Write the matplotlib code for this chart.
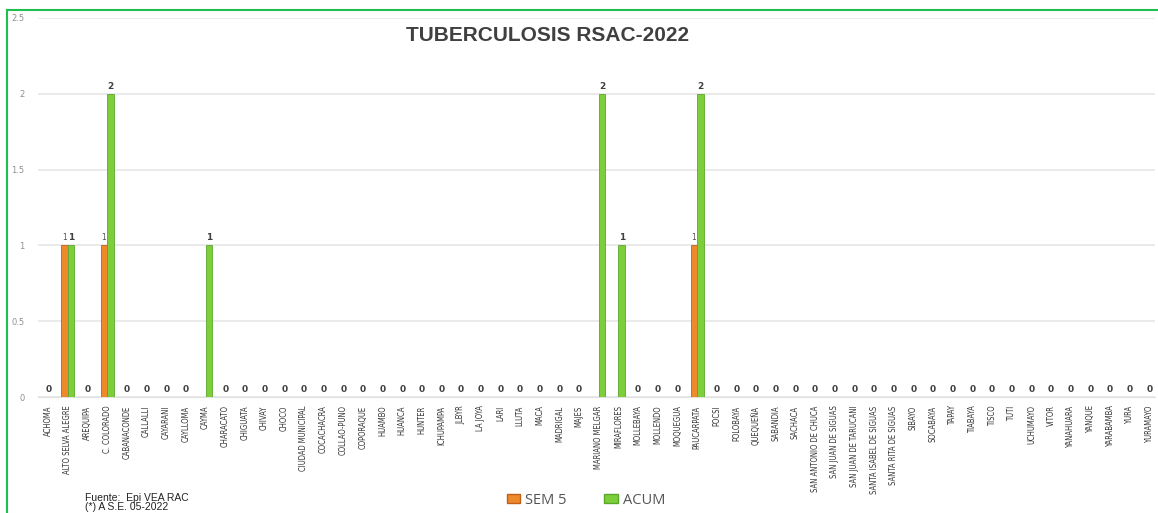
import matplotlib.pyplot as plt
import numpy as np
from matplotlib.patches import Patch

# Data
distritos = ['ACHOMA', 'ALTO SELVA ALEGRE', 'AREQUIPA', 'C. COLORADO', 'CABANACONDE',
             'CALLALLI', 'CAYARANI', 'CAYLLOMA', 'CAYMA', 'CHARACATO', 'CHIGUATA',
             'CHIVAY', 'CHOCO', 'CIUDAD MUNICIPAL', 'COCACHACRA', 'COLLAO-PUNO',
             'COPORAQUE', 'HUAMBO', 'HUANCA', 'HUNTER', 'ICHUPAMPA', 'JLBYR', 'LA JOYA',
             'LARI', 'LLUTA', 'MACA', 'MADRIGAL', 'MAJES', 'MARIANO MELGAR', 'MIRAFLORES',
             'MOLLEBAYA', 'MOLLENDO', 'MOQUEGUA', 'PAUCARPATA', 'POCSI', 'POLOBAYA',
             'QUEQUEÑA', 'SABANDIA', 'SACHACA', 'SAN ANTONIO DE CHUCA', 'SAN JUAN DE SIGUAS',
             'SAN JUAN DE TARUCANI', 'SANTA ISABEL DE SIGUAS', 'SANTA RITA DE SIGUAS',
             'SIBAYO', 'SOCABAYA', 'TAPAY', 'TIABAYA', 'TISCO', 'TUTI', 'UCHUMAYO', 'VITOR',
             'YANAHUARA', 'YANQUE', 'YARABAMBA', 'YURA', 'YURAMAYO']
sem5 = [0] * len(distritos)
acum = [0] * len(distritos)
for name, v in [('ALTO SELVA ALEGRE', 1), ('C. COLORADO', 1), ('PAUCARPATA', 1)]:
    sem5[distritos.index(name)] = v
for name, v in [('ALTO SELVA ALEGRE', 1), ('C. COLORADO', 2), ('CAYMA', 1),
                ('MARIANO MELGAR', 2), ('MIRAFLORES', 1), ('PAUCARPATA', 2)]:
    acum[distritos.index(name)] = v
yticks = [0, 0.5, 1, 1.5, 2, 2.5]

orange = '#ee8a2c'
green = '#7ccf3a'

fig = plt.figure(figsize=(11.58, 5.13), dpi=100)
ax = fig.add_axes([0.033, 0.226, 0.964, 0.739])

x = np.arange(len(distritos))
w = 0.33
ax.bar(x - w / 2, sem5, w, color=orange, edgecolor='#c0601a', linewidth=0.6, zorder=3)
ax.bar(x + w / 2, acum, w, color=green, edgecolor='#5aa82a', linewidth=0.6, zorder=3)

# value labels (zeros shown once per district)
for i in range(len(distritos)):
    if sem5[i] == 0 and acum[i] == 0:
        ax.text(x[i], 0.02, '0', ha='center', va='bottom', fontsize=6.5,
                color='#404040', fontweight='bold')
        continue
    if sem5[i] > 0:
        ax.text(x[i] - w / 2, sem5[i] + 0.02, str(sem5[i]), ha='center', va='bottom',
                fontsize=5.5, color='#505050')
    if acum[i] > 0:
        ax.text(x[i] + w / 2, acum[i] + 0.02, str(acum[i]), ha='center', va='bottom',
                fontsize=6.5, color='#404040', fontweight='bold')

ax.set_xlim(-0.51, 56.26)
ax.set_ylim(0, 2.5)
ax.set_yticks(yticks)
ax.set_yticklabels([f'{t:g}' for t in yticks], fontsize=6, color='#909090')
ax.yaxis.grid(True, color='#e6e6e6', linewidth=1.2, zorder=0)
ax.set_xticks(x)
ax.set_xticklabels(distritos, rotation=90, fontsize=5.5, fontstretch='condensed',
                   family='DejaVu Sans', color='#333333')
ax.tick_params(axis='x', length=0, pad=6)
ax.tick_params(axis='y', length=0, pad=10)
for s in ax.spines.values():
    s.set_visible(False)
ax.spines['bottom'].set_visible(True)
ax.spines['bottom'].set_color('#e0e0e0')

fig.text(0.473, 0.93, 'TUBERCULOSIS RSAC-2022', ha='center', va='center',
         fontsize=15, fontweight='bold', color='#404040',
         family=['Liberation Sans', 'DejaVu Sans'])

fig.text(0.073, 0.02, 'Fuente:  Epi VEA RAC\n(*) A S.E. 05-2022', ha='left', va='center',
         fontsize=7.5, color='#222222', linespacing=0.9, family=['Liberation Sans', 'DejaVu Sans'])

handles = [Patch(facecolor=orange, edgecolor='#c0601a'), Patch(facecolor=green, edgecolor='#5aa82a')]
fig.legend(handles, ['SEM 5', 'ACUM'], loc='center', bbox_to_anchor=(0.506, 0.025),
           ncol=2, frameon=False, handlelength=0.9, handleheight=0.6,
           handletextpad=0.35, columnspacing=2.6, labelcolor='#555555',
           prop={'family': ['Open Sans', 'DejaVu Sans'], 'size': 10.5})

# green frame
fig.add_artist(plt.Line2D([0.006, 0.006], [0, 0.981], color='#1fbf4f', linewidth=1.5))
fig.add_artist(plt.Line2D([0.006, 1.0], [0.981, 0.981], color='#1fbf4f', linewidth=1.5))

fig.savefig('out.png', dpi=100)
